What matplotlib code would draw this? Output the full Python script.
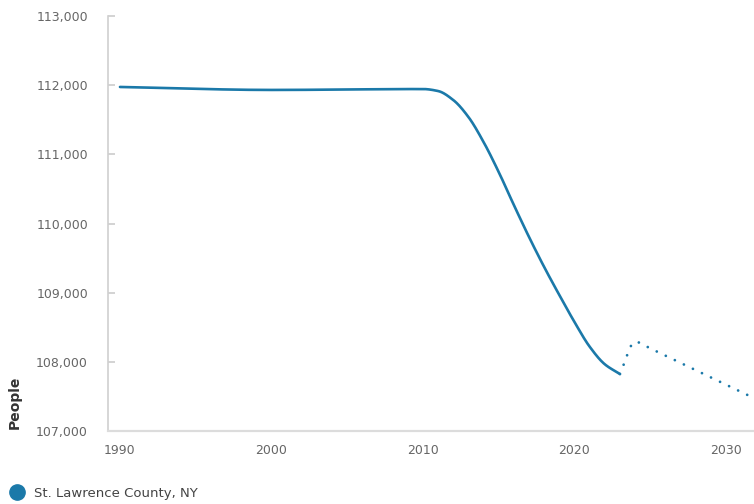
import numpy as np
import matplotlib
matplotlib.use("Agg")
import matplotlib.pyplot as plt
from matplotlib.lines import Line2D
from matplotlib.ticker import FuncFormatter

# population estimates (census years, then annual estimates)
hist_years = [1990, 2000, 2010, 2011, 2012, 2013, 2014, 2015, 2016,
              2017, 2018, 2019, 2020, 2021, 2022, 2023]
hist_people = [111974, 111931, 111944, 111915, 111785, 111540, 111178, 110744,
               110267, 109805, 109371, 108966, 108576, 108220, 107965, 107824]

# projection
proj_years = [2023, 2024, 2025, 2026, 2027, 2028, 2029, 2030, 2031, 2032, 2033]
proj_people = [107824, 108290, 108195, 108090, 107985, 107880, 107775,
               107670, 107565, 107460, 107355]

x_ticks = [1990, 2000, 2010, 2020, 2030]
y_ticks = [107000, 108000, 109000, 110000, 111000, 112000, 113000]
series_name = "St. Lawrence County, NY"

BLUE = "#1b79a9"


def monotone(x, y, n=40):
    # monotone cubic (Fritsch-Carlson) so the line bends without overshooting
    x = np.asarray(x, float)
    y = np.asarray(y, float)
    h = np.diff(x)
    d = np.diff(y) / h
    m = np.zeros_like(y)
    m[0], m[-1] = d[0], d[-1]
    for i in range(1, len(y) - 1):
        if d[i - 1] * d[i] <= 0:
            m[i] = 0
        else:
            w1 = 2 * h[i] + h[i - 1]
            w2 = h[i] + 2 * h[i - 1]
            m[i] = (w1 + w2) / (w1 / d[i - 1] + w2 / d[i])
    xs, ys = [], []
    for i in range(len(h)):
        t = np.linspace(0, 1, n, endpoint=(i == len(h) - 1))
        h00 = 2 * t**3 - 3 * t**2 + 1
        h10 = t**3 - 2 * t**2 + t
        h01 = -2 * t**3 + 3 * t**2
        h11 = t**3 - t**2
        xs.append(x[i] + t * h[i])
        ys.append(h00 * y[i] + h10 * h[i] * m[i] + h01 * y[i + 1] + h11 * h[i] * m[i + 1])
    return np.concatenate(xs), np.concatenate(ys)


fig = plt.figure(figsize=(7.54, 5.04), dpi=100)
ax = fig.add_axes([108 / 754, 73 / 504, 646 / 754, 415 / 504])

hx, hy = monotone(hist_years, hist_people)
ax.plot(hx, hy, color=BLUE, lw=1.9, solid_capstyle="round", clip_on=False)

px, py = monotone(proj_years, proj_people)
ax.plot(px, py, color=BLUE, lw=2.0, linestyle=(0, (0.01, 3.6)),
        dash_capstyle="round")

ax.set_xlim(1989.21, 2031.85)
ax.set_ylim(107000, 113000)
ax.set_xticks(x_ticks)
ax.set_yticks(y_ticks)
ax.yaxis.set_major_formatter(FuncFormatter(lambda v, p: f"{int(v):,}"))

for s in ["top", "right"]:
    ax.spines[s].set_visible(False)
ax.spines["left"].set_color("#d0d0d0")
ax.spines["left"].set_linewidth(1.2)
ax.spines["bottom"].set_color("#dcdcdc")
ax.spines["bottom"].set_linewidth(1.6)

ax.tick_params(axis="y", direction="in", length=5, width=1.2, color="#cccccc",
               pad=14.4, labelsize=9, labelcolor="#666666")
ax.tick_params(axis="x", length=0, pad=9.5, labelsize=9, labelcolor="#666666")

fig.text(15 / 754, 75 / 504, "People", rotation=90, ha="center", va="bottom",
         fontsize=10, fontweight="bold", color="#333333")

handle = Line2D([], [], marker="o", ls="", color=BLUE, markersize=11)
fig.legend([handle], [series_name], loc="center left",
           bbox_to_anchor=(6 / 754, 11 / 504), frameon=False, fontsize=9.5,
           handletextpad=0.9, borderaxespad=0, labelcolor="#444444",
           handlelength=0.8)

fig.savefig("out.png", dpi=100)
